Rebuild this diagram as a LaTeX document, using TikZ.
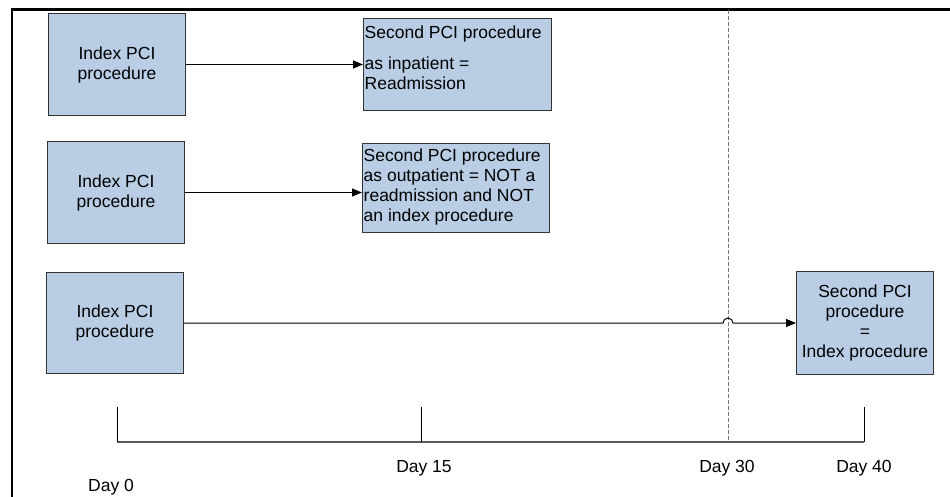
\documentclass[tikz,border=0pt]{standalone}
\usepackage{fontspec}
\setmainfont{Liberation Sans}
\usetikzlibrary{arrows.meta,calc}
\definecolor{boxfill}{RGB}{185,205,229}
\definecolor{boxline}{RGB}{50,50,50}
\definecolor{dashgray}{RGB}{120,120,120}
\definecolor{axisgray}{RGB}{90,90,90}
\begin{document}
\begin{tikzpicture}[x=1pt,y=-1pt,
  box/.style={draw=boxline,fill=boxfill,line width=1pt,inner sep=0pt,anchor=north west},
  txt/.style={font=\fontsize{17.5}{20}\selectfont,inner sep=0pt},
  arr/.style={draw=black,line width=1pt,-{Triangle[length=10pt,width=8pt]}},
  tick/.style={draw=black,line width=1pt},
  axis/.style={draw=axisgray,line width=1.6pt},
  dline/.style={draw=dashgray,line width=1pt,dash pattern=on 4pt off 2pt},
  frameline/.style={draw=black,line width=2.5pt}]
\useasboundingbox (0,0) rectangle (950,497);
% frame
\coordinate (fb) at (12,498);
\coordinate (fc) at (12,9.5);
\coordinate (fr) at (952,9.5);
\draw[frameline] (fb) -- (fc) -- (fr);
% boxes
\node[box,minimum width=137pt,minimum height=102pt] (b1) at (48,13) {};
\node[box,minimum width=188pt,minimum height=92pt] (b2) at (363,18) {};
\node[box,minimum width=137pt,minimum height=102pt] (b3) at (47,141) {};
\node[box,minimum width=187pt,minimum height=89pt] (b4) at (362,143) {};
\node[box,minimum width=137pt,minimum height=101pt] (b5) at (46,272) {};
\node[box,minimum width=137pt,minimum height=103pt] (b6) at (796,271) {};
% texts
\node[txt,align=center] (l1) at (b1.center) {Index PCI\\procedure};
\node[txt,align=left,anchor=west] (l2) at (364.5,57.5) {Second PCI procedure\\[11pt]as inpatient =\\Readmission};
\node[txt,align=center] (l3) at (b3.center) {Index PCI\\procedure};
\node[txt,align=left,anchor=west] (l4) at (363.5,187) {Second PCI procedure\\as outpatient = NOT a\\readmission and NOT\\an index procedure};
\node[txt,align=center] (l5) at (b5.center) {Index PCI\\procedure};
\node[txt,align=center] (l6) at (b6.center) {Second PCI\\procedure\\=\\Index procedure};
% timeline coordinates
\coordinate (t0) at (117,442);
\coordinate (t15) at (421,442);
\coordinate (t30) at (728,442);
\coordinate (t40) at (864,442);
\coordinate (ttop) at (0,407);
\coordinate (dtop) at (728,10);
% dashed day-30 line
\draw[dline] (dtop) -- (t30);
% arrows
\draw[arr] (b1.east) -- (b2.west |- b1.east);
\draw[arr] (b3.east) -- (b4.west |- b3.east);
\coordinate (hopc) at (b5.east -| t30);
\draw[arr] (b5.east) -- ($(hopc)+(-5,0)$) arc[start angle=180,end angle=0,radius=5pt] -- (b6.west |- b5.east);
% timeline
\draw[axis] (t0) -- (t40);
\draw[tick] (t0) -- (t0 |- ttop);
\draw[tick] (t15) -- (t15 |- ttop);
\draw[tick] (t40) -- (t40 |- ttop);
% day labels
\node[txt] (d0) at (111,487) {Day 0};
\node[txt] (d15) at (424,468) {Day 15};
\node[txt] (d30) at (727,468) {Day 30};
\node[txt] (d40) at (864,468) {Day 40};
\end{tikzpicture}
\end{document}
